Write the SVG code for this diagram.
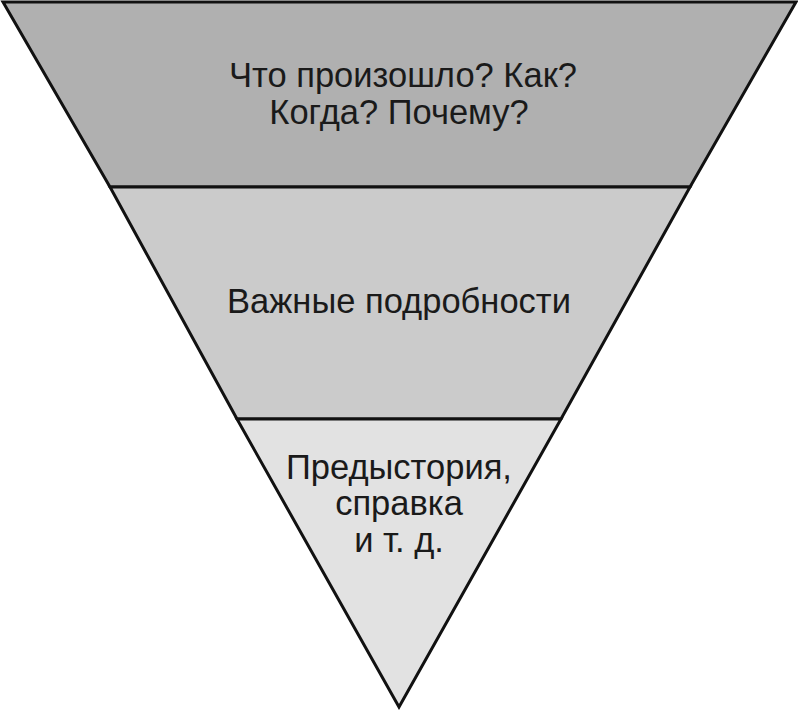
<svg xmlns="http://www.w3.org/2000/svg" width="798" height="710" viewBox="0 0 798 710">
<style>
.band{stroke:#111;stroke-width:3;stroke-linejoin:miter}
.t{font-family:"Liberation Sans",Arial,sans-serif;font-size:34.5px;fill:#1a1a1a;text-anchor:middle}
</style>
<rect width="798" height="710" fill="#fff"/>
<g id="top">
<polygon class="band" points="3,2 796,2 690,187 110,187" fill="#b0b0b0"/>
<text class="t" x="403" y="87">Что произошло? Как?</text>
<text class="t" x="399" y="124">Когда? Почему?</text>
</g>
<g id="middle">
<polygon class="band" points="110,187 690,187 561,419 237,419" fill="#cbcbcb"/>
<text class="t" x="399" y="313">Важные подробности</text>
</g>
<g id="bottom">
<polygon class="band" points="237,419 561,419 399,707" fill="#e2e2e2"/>
<text class="t" x="399" y="479">Предыстория,</text>
<text class="t" x="399" y="515">справка</text>
<text class="t" x="399" y="552">и т. д.</text>
</g>
<g id="connectors"></g>
</svg>
